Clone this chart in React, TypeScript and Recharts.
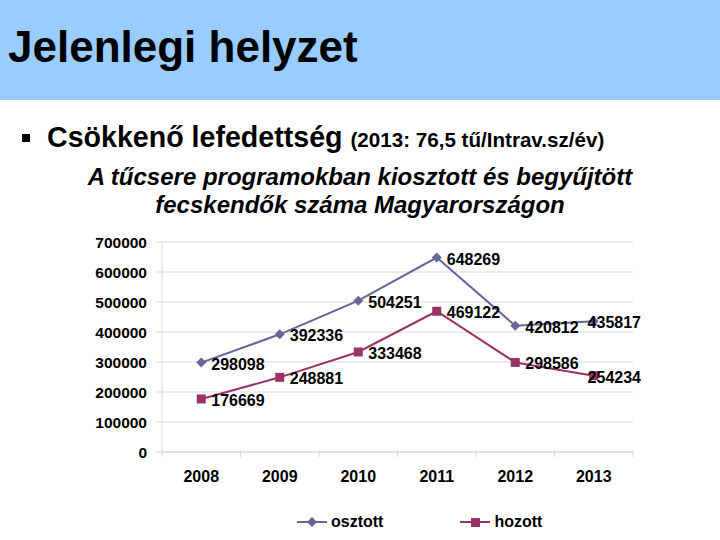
import React from 'react';
import { LineChart, Line, XAxis, YAxis, CartesianGrid, Legend, LabelList } from 'recharts';

const years = ['2008', '2009', '2010', '2011', '2012', '2013'];
const osztott = [298098, 392336, 504251, 648269, 420812, 435817];
const hozott = [176669, 248881, 333468, 469122, 298586, 254234];
const yTicks = [0, 100000, 200000, 300000, 400000, 500000, 600000, 700000];
const xTicks = [-0.5, 0, 0.5, 1, 1.5, 2, 2.5, 3, 3.5, 4, 4.5, 5, 5.5];
const seriesOrder = ['osztott', 'hozott'];

const data = years.map((y, i) => ({ idx: i, year: y, osztott: osztott[i], hozott: hozott[i] }));

const FONT = '"Liberation Sans", Arial, Helvetica, sans-serif';
const BLUE = '#666699';
const RED = '#993366';
const GRID = '#d9d9d9';
const X_TICK_SIZE = 5;
const X_TICK_MARGIN = 14;
const LABEL_RIGHT_LIMIT = 641;

const XTick = (props: any) => {
  const { x, y, payload } = props;
  const v = payload.value;
  if (Number.isInteger(v)) {
    return (
      <text x={x} y={y} dy="0.71em" textAnchor="middle" fontFamily={FONT} fontWeight="bold" fontSize={16} fill="#000">
        {years[v]}
      </text>
    );
  }
  const axisY = y - X_TICK_MARGIN - X_TICK_SIZE;
  return <line x1={x} x2={x} y1={axisY - 2} y2={axisY + X_TICK_SIZE} stroke={GRID} strokeWidth={1} />;
};

const YTick = (props: any) => {
  const { x, y, payload } = props;
  return (
    <text x={x} y={y} dy="0.36em" textAnchor="end" fontFamily={FONT} fontWeight="bold" fontSize={15.5} fill="#000">
      {payload.value}
    </text>
  );
};

const DataLabel = (props: any) => {
  const { x, y, value } = props;
  const w = String(value).length * 8.9;
  const lx = Math.min(x + 10, LABEL_RIGHT_LIMIT - w);
  return (
    <text x={lx} y={y} dy={7} textAnchor="start" fontFamily={FONT} fontWeight="bold" fontSize={16} fill="#000">
      {value}
    </text>
  );
};

const Diamond = (props: any) => {
  const { cx, cy, fill } = props;
  if (cx == null || cy == null) return null;
  const r = 5;
  return <polygon points={`${cx},${cy - r} ${cx + r},${cy} ${cx},${cy + r} ${cx - r},${cy}`} fill={fill} />;
};

const Square = (props: any) => {
  const { cx, cy, fill } = props;
  if (cx == null || cy == null) return null;
  const s = 4.5;
  return <rect x={cx - s} y={cy - s} width={s * 2} height={s * 2} fill={fill} />;
};

const LegendContent = (props: any) => {
  const items = [...(props.payload || [])].sort(
    (a: any, b: any) => seriesOrder.indexOf(a.value) - seriesOrder.indexOf(b.value)
  );
  return (
    <div style={{ display: 'flex', alignItems: 'center', fontFamily: FONT, fontWeight: 'bold', fontSize: 16, height: 24 }}>
      {items.map((it: any, i: number) => (
        <div key={i} style={{ display: 'flex', alignItems: 'center', marginRight: i === 0 ? 77 : 0 }}>
          <svg width={31} height={14} style={{ marginRight: 3 }}>
            <line x1={0} x2={30} y1={7} y2={7} stroke={it.color} strokeWidth={2} />
            {it.value === 'osztott' ? (
              <polygon points="15,2 20,7 15,12 10,7" fill={it.color} />
            ) : (
              <rect x={11} y={3} width={9} height={9} fill={it.color} />
            )}
          </svg>
          <span style={{ color: '#000' }}>{it.value}</span>
        </div>
      ))}
    </div>
  );
};

export default function App() {
  return (
    <div style={{ position: 'absolute', left: 0, top: 0, width: 720, height: 540, background: '#fff', overflow: 'hidden', fontFamily: FONT }}>
      <div style={{ position: 'absolute', left: 0, top: 0, width: 720, height: 100, background: '#99ccff' }} />
      <div style={{ position: 'absolute', left: 8, top: 25, fontSize: 44, fontWeight: 'bold', lineHeight: '44px', color: '#000', whiteSpace: 'nowrap' }}>
        Jelenlegi helyzet
      </div>
      <div style={{ position: 'absolute', left: 22, top: 134, width: 8, height: 8, background: '#000' }} />
      <div style={{ position: 'absolute', left: 47, top: 123, fontSize: 28.6, fontWeight: 'bold', lineHeight: '28px', color: '#000', whiteSpace: 'nowrap' }}>
        Csökkenő lefedettség <span style={{ fontSize: 20.6 }}>(2013: 76,5 tű/Intrav.sz/év)</span>
      </div>
      <div style={{ position: 'absolute', left: 0, top: 163, width: 720, textAlign: 'center', fontSize: 24, fontWeight: 'bold', fontStyle: 'italic', lineHeight: '28px', color: '#000' }}>
        A tűcsere programokban kiosztott és begyűjtött
        <br />
        fecskendők száma Magyarországon
      </div>
      <div style={{ position: 'absolute', left: 0, top: 0 }}>
        <LineChart width={720} height={540} data={data} margin={{ top: 242, right: 87, left: 82, bottom: 34 }}>
          <CartesianGrid vertical={false} stroke={GRID} />
          <XAxis
            dataKey="idx"
            type="number"
            domain={[-0.5, 5.5]}
            ticks={xTicks}
            interval={0}
            allowDataOverflow
            height={30}
            tickSize={X_TICK_SIZE}
            tickMargin={X_TICK_MARGIN}
            tickLine={false}
            axisLine={{ stroke: GRID }}
            tick={<XTick />}
          />
          <YAxis
            type="number"
            domain={[0, 700000]}
            ticks={yTicks}
            interval={0}
            width={80}
            tickSize={6}
            tickMargin={9}
            tickLine={{ stroke: GRID }}
            axisLine={{ stroke: GRID }}
            tick={<YTick />}
          />
          <Legend
            verticalAlign="bottom"
            content={<LegendContent />}
            wrapperStyle={{ position: 'absolute', left: 297, top: 510, width: 'auto', height: 24 }}
          />
          <Line
            type="linear"
            dataKey="osztott"
            name="osztott"
            stroke={BLUE}
            fill={BLUE}
            strokeWidth={2}
            dot={<Diamond fill={BLUE} />}
            activeDot={false}
            isAnimationActive={false}
          >
            <LabelList dataKey="osztott" content={<DataLabel />} />
          </Line>
          <Line
            type="linear"
            dataKey="hozott"
            name="hozott"
            stroke={RED}
            fill={RED}
            strokeWidth={2}
            dot={<Square fill={RED} />}
            activeDot={false}
            isAnimationActive={false}
          >
            <LabelList dataKey="hozott" content={<DataLabel />} />
          </Line>
        </LineChart>
      </div>
    </div>
  );
}
